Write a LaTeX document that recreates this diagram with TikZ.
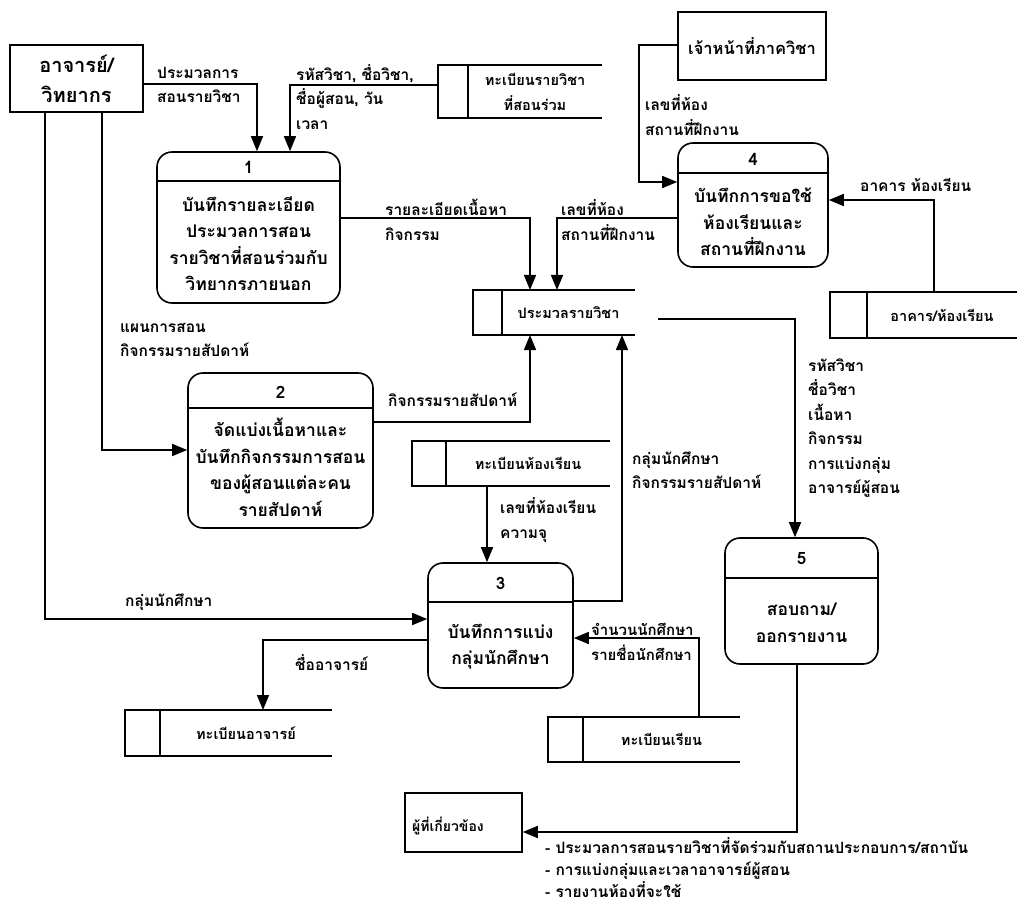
\documentclass[tikz,border=0pt]{standalone}
\usepackage{fontspec}
\setmainfont[Script=Thai]{Loma}
\usetikzlibrary{arrows.meta}
% data store: name, x1, y1, x2, y2, divider x, text
\newcommand\dstore[7]{%
  \node[inner sep=0, outer sep=0, minimum width={#4-#2}, minimum height={#5-#3}, anchor=north west] (#1) at (#2,#3) {};
  \draw[line] (#1.north east) -- (#1.north west) -- (#1.south west) -- (#1.south east);
  \draw[line] (#6,#3) -- (#6,#5);
  \node[stext] (#1-t) at ({(#6+#4)/2},{(#3+#5)/2}) {#7};
}
\begin{document}
\begin{tikzpicture}[x=1pt,y=-1pt,
  line/.style={line width=1.6pt},
  flow/.style={line width=1.6pt, -{Triangle[length=15pt,width=12pt]}},
  ent/.style={draw, line width=1.6pt, inner sep=0, align=center, font=\fontsize{20}{30}\selectfont\bfseries},
  proc/.style={draw, line width=1.6pt, rounded corners=15pt, inner sep=0},
  pnum/.style={inner sep=0, font=\fontsize{17}{20}\selectfont\bfseries},
  ptext/.style={align=center, inner sep=0, font=\fontsize{17.5}{26.5}\selectfont\bfseries},
  stext/.style={align=center, inner sep=0, font=\fontsize{14.5}{25}\selectfont\bfseries},
  lbl/.style={anchor=west, align=left, inner sep=0, font=\fontsize{15.5}{24.5}\selectfont\bfseries},
]
\useasboundingbox (0,0) rectangle (1028,917);

% external entities
\node[ent, minimum width=133, minimum height=67] (e1) at (76.5,78.5) {อาจารย์/\\วิทยากร};
\node[ent, minimum width=148, minimum height=68, font=\fontsize{16.5}{29}\selectfont\bfseries] (e2) at (752,46) {เจ้าหน้าที่ภาควิชา};
\node[ent, minimum width=117, minimum height=59] (e3) at (463.5,822.5) {};
\node[inner sep=0, font=\fontsize{14}{20}\selectfont\bfseries] (e3t) at (448,826) {ผู้ที่เกี่ยวข้อง};

% processes
\node[proc, minimum width=183, minimum height=151] (p1) at (248.5,227.5) {};
\draw[line] (p1.west |- 0,181) -- (p1.east |- 0,181);
\node[pnum] (p1n) at (248.5,167) {1};
\node[ptext] (p1t) at (248.5,243.5) {บันทึกรายละเอียด\\ประมวลการสอน\\รายวิชาที่สอนร่วมกับ\\วิทยากรภายนอก};

\node[proc, minimum width=185, minimum height=155] (p2) at (280.5,450.5) {};
\draw[line] (p2.west |- 0,408) -- (p2.east |- 0,408);
\node[pnum] (p2n) at (280.5,392) {2};
\node[ptext] (p2t) at (280.5,467.5) {จัดแบ่งเนื้อหาและ\\บันทึกกิจกรรมการสอน\\ของผู้สอนแต่ละคน\\รายสัปดาห์};

\node[proc, minimum width=145, minimum height=125] (p3) at (500.5,625.5) {};
\draw[line] (p3.west |- 0,602) -- (p3.east |- 0,602);
\node[pnum] (p3n) at (500.5,583) {3};
\node[ptext] (p3t) at (500.5,646.5) {บันทึกการแบ่ง\\กลุ่มนักศึกษา};

\node[proc, minimum width=150, minimum height=124] (p4) at (753,205) {};
\draw[line] (p4.west |- 0,173) -- (p4.east |- 0,173);
\node[pnum] (p4n) at (753,159) {4};
\node[ptext] (p4t) at (753,222) {บันทึกการขอใช้\\ห้องเรียนและ\\สถานที่ฝึกงาน};

\node[proc, minimum width=153, minimum height=126] (p5) at (801.5,601) {};
\draw[line] (p5.west |- 0,578) -- (p5.east |- 0,578);
\node[pnum] (p5n) at (801.5,559) {5};
\node[ptext] (p5t) at (801.5,623) {สอบถาม/\\ออกรายงาน};

% data stores
\dstore{s1}{438}{65}{602}{118}{468}{ทะเบียนรายวิชา\\ที่สอนร่วม}
\dstore{s2}{473}{290}{635}{335}{502}{ประมวลรายวิชา}
\dstore{s3}{830}{292}{1017}{338}{867}{อาคาร/ห้องเรียน}
\dstore{s4}{412}{441}{610}{486}{446}{ทะเบียนห้องเรียน}
\dstore{s5}{125}{710}{332}{756}{160}{ทะเบียนอาจารย์}
\dstore{s6}{548}{717}{740}{762}{583}{ทะเบียนเรียน}

% flows
\draw[flow] (e1.east |- 0,84) -- (257,84) -- (257,0 |- p1.north);
\node[lbl] (l1) at (157,85) {ประมวลการ\\สอนรายวิชา};

\draw[flow] (s1.west |- 0,85) -- (290,85) -- (290,0 |- p1.north);
\node[lbl] (l2) at (296,97) {รหัสวิชา, ชื่อวิชา,\\ชื่อผู้สอน, วัน\\เวลา};

\draw[flow] (102,0 |- e1.south) -- (102,450) -- (p2.west |- 0,450);
\node[lbl] (l3) at (120,340) {แผนการสอน\\กิจกรรมรายสัปดาห์};

\draw[flow] (45,0 |- e1.south) -- (45,619) -- (p3.west |- 0,619);
\node[lbl] (l4) at (125,602) {กลุ่มนักศึกษา};

\draw[flow] (p1.east |- 0,218) -- (530,218) -- (530,0 |- s2.north);
\node[lbl] (l5) at (385,220) {รายละเอียดเนื้อหา\\กิจกรรม};

\draw[flow] (p4.west |- 0,218) -- (557,218) -- (557,0 |- s2.north);
\node[lbl] (l6) at (561,220) {เลขที่ห้อง\\สถานที่ฝึกงาน};

\draw[flow] (e2.west |- 0,45) -- (639,45) -- (639,182) -- (p4.west |- 0,182);
\node[lbl] (l7) at (645,115) {เลขที่ห้อง\\สถานที่ฝึกงาน};

\draw[flow] (934,0 |- s3.north) -- (934,200) -- (p4.east |- 0,200);
\node[lbl] (l8) at (860,185) {อาคาร ห้องเรียน};

\coordinate (s2out) at (658,319);
\draw[flow] (s2out) -- (795,319) -- (795,0 |- p5.north);
\node[lbl] (l9) at (808,428) {รหัสวิชา\\ชื่อวิชา\\เนื้อหา\\กิจกรรม\\การแบ่งกลุ่ม\\อาจารย์ผู้สอน};

\draw[flow] (p2.east |- 0,422) -- (530,422) -- (530,0 |- s2.south);
\node[lbl] (l10) at (388,400) {กิจกรรมรายสัปดาห์};

\draw[flow] (p3.east |- 0,601) -- (622,601) -- (622,0 |- s2.south);
\node[lbl] (l11) at (632,470) {กลุ่มนักศึกษา\\กิจกรรมรายสัปดาห์};

\draw[flow] (487,0 |- s4.south) -- (487,0 |- p3.north);
\node[lbl] (l12) at (500,520) {เลขที่ห้องเรียน\\ความจุ};

\draw[flow] (p3.west |- 0,640) -- (263,640) -- (263,0 |- s5.north);
\node[lbl] (l13) at (295,663) {ชื่ออาจารย์};

\draw[flow] (699,0 |- s6.north) -- (699,638) -- (p3.east |- 0,638);
\node[lbl, font=\fontsize{15}{25}\selectfont\bfseries] (l14) at (591,642) {จำนวนนักศึกษา\\รายชื่อนักศึกษา};

\draw[flow] (797,0 |- p5.south) -- (797,832) -- (e3.east |- 0,832);
\node[lbl, font=\fontsize{15.5}{22}\selectfont\bfseries] (l15) at (545,868) {- ประมวลการสอนรายวิชาที่จัดร่วมกับสถานประกอบการ/สถาบัน\\- การแบ่งกลุ่มและเวลาอาจารย์ผู้สอน\\- รายงานห้องที่จะใช้};
\end{tikzpicture}
\end{document}
